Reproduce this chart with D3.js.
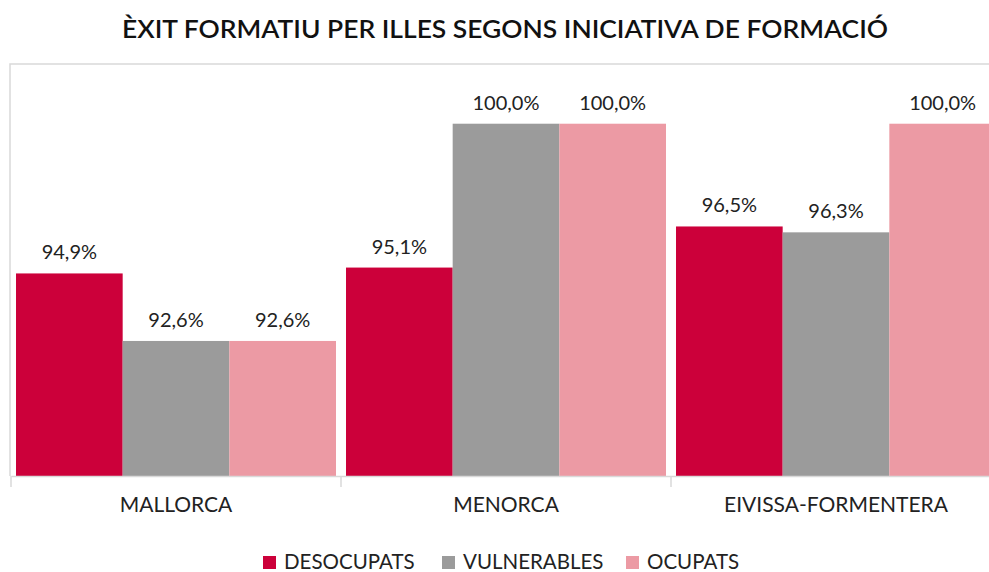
<!DOCTYPE html>
<html>
<head>
<meta charset="utf-8">
<script src="https://cdn.jsdelivr.net/npm/d3@7"></script>
<style>
  body { margin: 0; background: #fff; }
  svg { display: block; font-family: Lato, "Noto Sans", sans-serif; }
</style>
</head>
<body>
<svg id="chart" width="989" height="572"></svg>
<script>
// data
var islands = ['MALLORCA', 'MENORCA', 'EIVISSA-FORMENTERA'];
var seriesNames = ['DESOCUPATS', 'VULNERABLES', 'OCUPATS'];
var desocupats = [94.9, 95.1, 96.5];
var vulnerables = [92.6, 100.0, 96.3];
var ocupats = [92.6, 100.0, 100.0];
var colors = ['#cc003a', '#9b9b9b', '#ec9aa4'];

var seriesValues = [desocupats, vulnerables, ocupats];

var svg = d3.select('#chart');
var plotLeft = 11, plotRight = 1001, plotTop = 65, plotBottom = 476;

var x0 = d3.scaleBand().domain(islands).range([plotLeft, plotRight]).paddingInner(0).paddingOuter(0);
var x1 = d3.scaleBand().domain(seriesNames).range([0, x0.bandwidth()]).paddingOuter(0.047);
var y = d3.scaleLinear().domain([88, 102]).range([plotBottom, plotTop]);

var fmt = function(v) { return d3.format('.1f')(v).replace('.', ',') + '%'; };

// title
svg.append('text')
  .attr('x', 505).attr('y', 38)
  .attr('text-anchor', 'middle')
  .attr('font-size', 24).attr('font-weight', 600)
  .attr('fill', '#111')
  .attr('textLength', 766).attr('lengthAdjust', 'spacingAndGlyphs')
  .text('ÈXIT FORMATIU PER ILLES SEGONS INICIATIVA DE FORMACIÓ');

// plot frame (top and left)
svg.append('path')
  .attr('d', 'M' + (plotLeft - 1) + ',' + plotBottom + 'V' + (plotTop - 1) + 'H989')
  .attr('fill', 'none').attr('stroke', '#d9d9d9').attr('stroke-width', 1.5);

// bars
var rows = [];
islands.forEach(function(isl, i) {
  seriesNames.forEach(function(s, j) {
    rows.push({ island: isl, series: s, value: seriesValues[j][i], color: colors[j] });
  });
});

svg.append('g').selectAll('rect')
  .data(rows)
  .enter().append('rect')
  .attr('x', function(d) { return x0(d.island) + x1(d.series); })
  .attr('y', function(d) { return y(d.value); })
  .attr('width', x1.bandwidth())
  .attr('height', function(d) { return plotBottom - y(d.value); })
  .attr('fill', function(d) { return d.color; });

svg.append('g').selectAll('text')
  .data(rows)
  .enter().append('text')
  .attr('x', function(d) { return x0(d.island) + x1(d.series) + x1.bandwidth() / 2; })
  .attr('y', function(d) { return y(d.value) - 14; })
  .attr('text-anchor', 'middle')
  .attr('font-size', 20)
  .attr('fill', '#222')
  .text(function(d) { return fmt(d.value); });

// x axis
var xAxis = d3.axisBottom(x0).tickSize(0).tickPadding(21);
var gx = svg.append('g').attr('transform', 'translate(0,' + plotBottom + ')').call(xAxis);
gx.select('.domain').attr('stroke', '#d9d9d9').attr('stroke-width', 1.5);
gx.selectAll('text').attr('font-size', 21).attr('fill', '#222').attr('font-family', 'Lato, "Noto Sans", sans-serif');

var bounds = islands.map(function(d) { return x0(d); }).concat([plotRight]);
gx.selectAll('line.sep')
  .data(bounds)
  .enter().append('line')
  .attr('class', 'sep')
  .attr('x1', function(d) { return d; }).attr('x2', function(d) { return d; })
  .attr('y1', 0).attr('y2', 11)
  .attr('stroke', '#d9d9d9').attr('stroke-width', 1.5);

// legend
var legendX = [263, 442, 626];
var legend = svg.append('g').selectAll('g')
  .data(seriesNames)
  .enter().append('g')
  .attr('transform', function(d, i) { return 'translate(' + legendX[i] + ',556)'; });
legend.append('rect')
  .attr('width', 13).attr('height', 13)
  .attr('fill', function(d, i) { return colors[i]; });
legend.append('text')
  .attr('x', 21).attr('y', 13)
  .attr('font-size', 20.5).attr('fill', '#222')
  .text(function(d) { return d; });
</script>
</body>
</html>
